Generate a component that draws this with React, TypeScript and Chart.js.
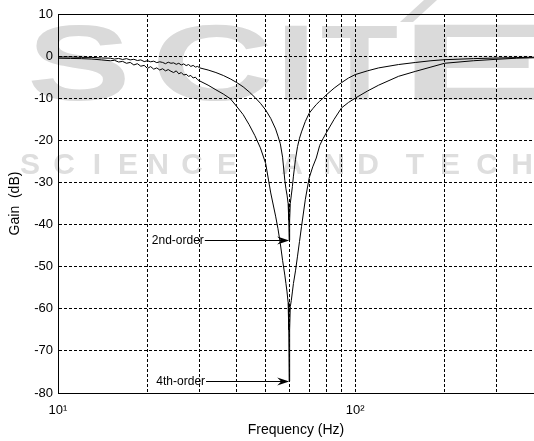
import React, { useEffect, useRef } from "react";
import { Chart, registerables } from "chart.js";

Chart.register(...registerables);

const FONT = '"Liberation Sans", Arial, Helvetica, sans-serif';

// ---- data ----
const freqHz = [
  10, 11, 12, 13, 14,
  15, 15.5, 16, 16.5, 17, 17.5, 18, 18.5, 19, 19.5, 20, 20.5, 21, 21.5, 22, 22.5,
  23, 23.5, 24, 24.5, 25, 25.5, 26, 26.5, 27, 27.5, 28, 28.5, 29, 29.5, 30,
  32, 34, 36, 38, 40, 42, 44, 46, 48,
  50, 52, 54, 55, 56, 57, 58, 58.5, 59, 59.5, 59.8, 60, 60.2, 60.5, 61, 61.5, 62,
  63, 64, 65, 66, 68, 70, 72, 74, 76, 78, 80, 85, 90, 95, 100,
  110, 120, 140, 160, 180, 200, 250, 300, 350, 400,
];

const gain2ndOrder = [
  -0.2, -0.2, -0.3, -0.3, -0.45,
  -0.5, -0.7, -0.55, -0.8, -0.6, -0.9, -0.75, -1.05, -0.9, -1.3, -1.1, -1.35, -1.2, -1.55, -1.35, -1.5,
  -1.8, -1.45, -1.7, -1.6, -1.95, -1.7, -2.1, -1.85, -2.25, -2.0, -2.45, -2.2, -2.6, -2.45, -2.8,
  -3.3, -3.9, -4.6, -5.4, -6.3, -7.3, -8.5, -9.8, -11.2,
  -12.8, -14.8, -17.3, -19, -20.8, -24, -29.5, -31.5, -33, -35, -39, -43.7, -39, -35, -33, -31, -28.5,
  -24.5, -21.5, -19.5, -18, -15.5, -13.6, -12.5, -11.5, -10.7, -10, -9.2, -7.6, -6.3, -5.2, -4.4,
  -3.5, -2.8, -2.0, -1.5, -1.1, -0.85, -0.6, -0.45, -0.35, -0.25,
];

const gain4thOrder = [
  -0.5, -0.55, -0.6, -0.7, -0.9,
  -1.1, -1.0, -1.4, -1.25, -1.7, -1.5, -2.1, -1.8, -2.4, -2.2, -2.9, -2.5, -3.1, -2.8, -3.3, -3.0,
  -3.5, -3.2, -3.6, -3.9, -3.5, -4.2, -3.9, -4.5, -4.3, -4.8, -4.6, -5.2, -5.0, -5.6, -5.9,
  -6.9, -8.0, -9.0, -10.1, -12.0, -13.9, -16.3, -18.9, -21.8,
  -25.5, -32.5, -38, -41, -44.5, -48.5, -52, -54, -56, -58.5, -65, -77.2, -65, -59.5, -58, -56, -54,
  -51, -47.5, -44, -40.5, -34, -29, -26.3, -24.2, -21.2, -19.6, -18.2, -15, -12.3, -11, -10,
  -8.3, -6.9, -4.8, -3.6, -2.6, -1.7, -1.1, -0.75, -0.5, -0.4,
];

const xTicks = [10, 20, 30, 40, 50, 60, 70, 80, 90, 100, 200, 300, 400];
const xTickLabels: Record<number, string> = { 10: "10\u00B9", 100: "10\u00B2" };
const xMin = 10;
const xMax = 400;
const yMin = -80;
const yMax = 10;
const yStep = 10;

const xTitle = "Frequency (Hz)";
const yTitle = "Gain  (dB)";

const annotationLabels = ["2nd-order", "4th-order"];
const annotationTipFreq = [60, 60];
const annotationTipGain = [-43.7, -77.2];
const annotationTailFreq = [31.2, 31.5];

const watermarkTop = "SCITE";
const watermarkBottom = "SCIENCE AND TECHNOLOGY";

// ---- plugins ----
const watermarkPlugin = {
  id: "watermark",
  beforeDraw(chart: any) {
    const ctx = chart.ctx as CanvasRenderingContext2D;
    ctx.save();
    ctx.fillStyle = "#dadada";
    ctx.font = `bold 100px ${FONT}`;
    ctx.textAlign = "left";
    ctx.textBaseline = "alphabetic";
    const boxes = [
      [30, 125],
      [158, 270],
      [284, 308],
      [322, 398],
      [413, 540],
    ];
    watermarkTop.split("").forEach((ch, i) => {
      const [x0, x1] = boxes[i];
      const m = ctx.measureText(ch);
      const w = m.actualBoundingBoxLeft + m.actualBoundingBoxRight;
      const h = m.actualBoundingBoxAscent;
      ctx.save();
      ctx.translate(x0, 100);
      ctx.scale((x1 - x0) / w, 75 / h);
      ctx.fillText(ch, m.actualBoundingBoxLeft, 0);
      ctx.restore();
    });
    ctx.beginPath();
    ctx.moveTo(400, 22);
    ctx.lineTo(413, 22);
    ctx.lineTo(437, 0);
    ctx.lineTo(424, 0);
    ctx.closePath();
    ctx.fill();

    ctx.fillStyle = "#dedede";
    ctx.font = `bold 30px ${FONT}`;
    ctx.textAlign = "center";
    const centers = [30, 64, 97, 128, 158, 192, 227, 0, 292, 334, 368, 0, 415, 450, 487, 522, 560];
    watermarkBottom.split("").forEach((ch, i) => {
      if (i >= centers.length || ch === " ") return;
      ctx.fillText(ch, centers[i], 174);
    });
    ctx.restore();
  },
};

const framePlugin = {
  id: "frame",
  afterDraw(chart: any) {
    const { ctx, chartArea } = chart;
    ctx.save();
    ctx.strokeStyle = "#000";
    ctx.lineWidth = 1;
    ctx.setLineDash([]);
    const y = Math.round(chartArea.top) + 0.5;
    ctx.beginPath();
    ctx.moveTo(chartArea.left, y);
    ctx.lineTo(chartArea.right, y);
    ctx.stroke();
    ctx.restore();
  },
};

const annotationPlugin = {
  id: "notchLabels",
  afterDatasetsDraw(chart: any) {
    const ctx = chart.ctx as CanvasRenderingContext2D;
    const xs = chart.scales.x;
    const ys = chart.scales.y;
    ctx.save();
    ctx.strokeStyle = "#000";
    ctx.fillStyle = "#000";
    ctx.lineWidth = 1;
    ctx.setLineDash([]);
    ctx.font = `12px ${FONT}`;
    ctx.textAlign = "right";
    ctx.textBaseline = "middle";
    annotationLabels.forEach((t, i) => {
      const tipX = xs.getPixelForValue(annotationTipFreq[i]);
      const tailX = xs.getPixelForValue(annotationTailFreq[i]);
      const y = Math.round(ys.getPixelForValue(annotationTipGain[i])) + 0.5;
      ctx.beginPath();
      ctx.moveTo(tailX, y);
      ctx.lineTo(tipX - 6, y);
      ctx.stroke();
      ctx.beginPath();
      ctx.moveTo(tipX, y);
      ctx.lineTo(tipX - 12, y - 4);
      ctx.lineTo(tipX - 8, y);
      ctx.lineTo(tipX - 12, y + 4);
      ctx.closePath();
      ctx.fill();
      ctx.fillText(t, tailX - 1, y);
    });
    ctx.restore();
  },
};

export default function App() {
  const ref = useRef<HTMLCanvasElement>(null);

  useEffect(() => {
    const canvas = ref.current;
    if (!canvas) return;
    const mk = (vals: number[]) => freqHz.map((f, i) => ({ x: f, y: vals[i] }));
    const lineStyle = {
      borderColor: "#000",
      borderWidth: 1,
      pointRadius: 0,
      fill: false,
      tension: 0,
    };
    const tickFont = { family: FONT, size: 13 };
    const titleFont = { family: FONT, size: 14 };
    const chart = new Chart(canvas, {
      type: "line",
      data: {
        datasets: [
          { label: "2nd-order", data: mk(gain2ndOrder), ...lineStyle },
          { label: "4th-order", data: mk(gain4thOrder), ...lineStyle },
        ],
      },
      options: {
        responsive: false,
        animation: false,
        devicePixelRatio: 1,
        layout: { padding: { top: 14, right: 0, bottom: 0, left: 0 } },
        plugins: { legend: { display: false }, tooltip: { enabled: false } },
        scales: {
          x: {
            type: "logarithmic",
            min: xMin,
            max: xMax,
            position: "bottom",
            afterBuildTicks: (s: any) => {
              s.ticks = xTicks.map((v) => ({ value: v }));
            },
            afterFit: (s: any) => {
              s.height = 48;
              s.paddingLeft = 0;
              s.paddingRight = 0;
            },
            ticks: {
              autoSkip: false,
              maxRotation: 0,
              padding: 10,
              color: "#000",
              font: tickFont,
              callback: (v: any) => xTickLabels[Number(v)] ?? "",
            },
            grid: { color: "#000", lineWidth: 1, drawTicks: false },
            border: { display: true, color: "#000", width: 1, dash: [3, 2] },
            title: {
              display: true,
              text: xTitle,
              color: "#000",
              font: titleFont,
              padding: { top: 0, bottom: 2 },
            },
          },
          y: {
            type: "linear",
            min: yMin,
            max: yMax,
            afterFit: (s: any) => {
              s.width = 58;
            },
            ticks: { stepSize: yStep, padding: 5, color: "#000", font: tickFont },
            grid: { color: "#000", lineWidth: 1, drawTicks: false },
            border: { display: true, color: "#000", width: 1, dash: [3, 2] },
            title: {
              display: true,
              text: yTitle,
              color: "#000",
              font: titleFont,
              padding: { top: 7, bottom: 0 },
            },
          },
        },
      } as any,
      plugins: [watermarkPlugin, framePlugin, annotationPlugin],
    });
    return () => chart.destroy();
  }, []);

  return (
    <div
      style={{
        position: "absolute",
        left: 0,
        top: 0,
        width: 534,
        height: 441,
        background: "#fff",
      }}
    >
      <canvas ref={ref} width={534} height={441} style={{ display: "block" }} />
    </div>
  );
}
